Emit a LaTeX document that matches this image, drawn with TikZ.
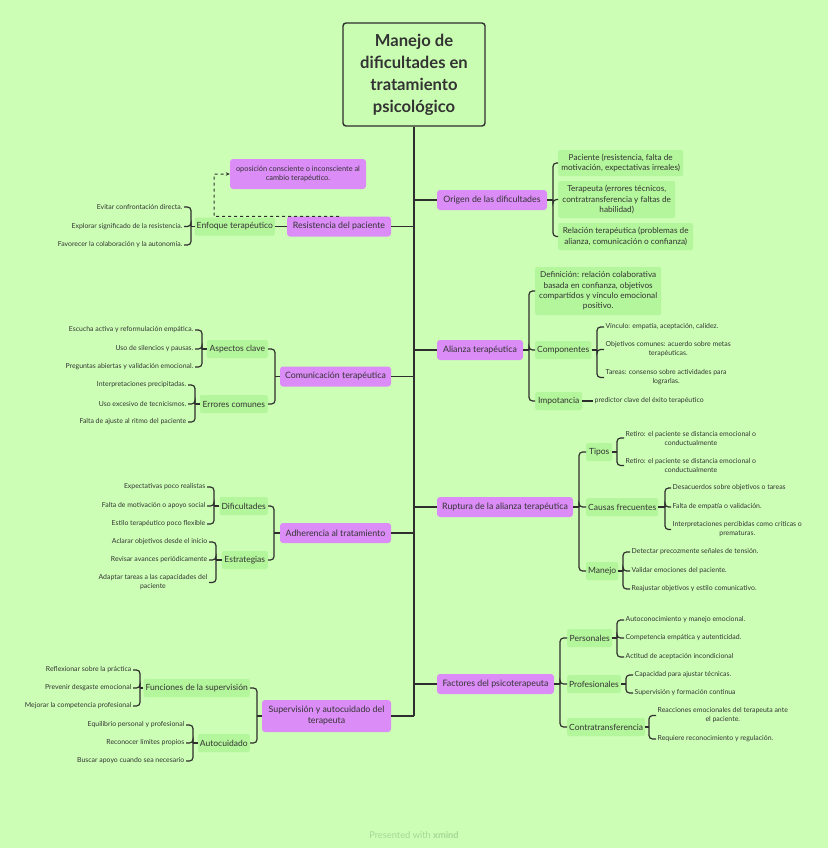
\documentclass[tikz,border=0pt]{standalone}
\usepackage{fontspec}
\setmainfont{Lato}
\usetikzlibrary{arrows.meta}
\definecolor{bg}{HTML}{CCFFB5}
\definecolor{bgl}{HTML}{C9FEB2}
\definecolor{pur}{HTML}{DB8CF7}
\definecolor{grn}{HTML}{B4F69B}
\definecolor{lc}{HTML}{2E2E2E}
\definecolor{tc}{HTML}{333333}
\definecolor{foot}{HTML}{A6D596}
\begin{document}
\begin{tikzpicture}[x=1pt,y=-1pt,
  mainnode/.style={fill=pur, rounded corners=3pt, font=\fontsize{8.8}{11}\selectfont, text=tc, minimum height=20, inner sep=2pt, align=center},
  subnode/.style={fill=grn, rounded corners=2pt, font=\fontsize{8.5}{11}\selectfont, text=tc, minimum height=18, inner sep=2pt},
  okbox/.style={fill=grn, rounded corners=2pt, font=\fontsize{8.2}{10.4}\selectfont, text=tc, align=center, inner sep=2pt},
  leaf/.style={font=\fontsize{6.9}{9}\selectfont, text=tc, inner sep=1.5pt, align=center},
  ml/.style={draw=lc, line width=1.7pt},
  ln/.style={draw=lc, line width=1.2pt},
  br/.style={draw=lc, line width=1.2pt, rounded corners=3.5pt}]
\fill[bg] (0,0) rectangle (828,848);
\useasboundingbox (0,0) rectangle (828,848);

% root
\node[draw=lc, line width=1.4pt, fill=bgl, rounded corners=3pt, minimum width=142, minimum height=103, align=center, text=tc, font=\fontsize{16.6}{22}\selectfont\bfseries] (root) at (414,74.5) {Manejo de\\dificultades en\\tratamiento\\psicológico};
\coordinate (tend) at (414,716);
\draw[ml] (root.south) -- (tend);

% main nodes
\node[mainnode, minimum width=110] (ori) at (492,200) {Origen de las dificultades};
\node[mainnode, minimum width=86] (ali) at (480,350) {Alianza terapéutica};
\node[mainnode, minimum width=136] (rup) at (505,507) {Ruptura de la alianza terapéutica};
\node[mainnode, minimum width=117] (fac) at (495.5,684) {Factores del psicoterapeuta};
\node[mainnode, minimum width=104] (res) at (339,226.5) {Resistencia del paciente};
\node[mainnode, minimum width=111] (com) at (335.5,376.5) {Comunicación terapéutica};
\node[mainnode, minimum width=111] (adh) at (335.5,533) {Adherencia al tratamiento};
\node[mainnode, minimum width=129, minimum height=32] (sup) at (326.5,716) {Supervisión y autocuidado del\\terapeuta};

\foreach \n in {ori,ali,rup,fac}{\draw[ml] (\n.west -| root.south) -- (\n.west);}
\foreach \n in {res,com,adh,sup}{\draw[ml] (\n.east -| root.south) -- (\n.east);}

% ---------- Origen
\node[okbox, minimum width=125, minimum height=26, anchor=west] (o1) at (558,163) {Paciente (resistencia, falta de\\motivación, expectativas irreales)};
\node[okbox, minimum width=117, minimum height=37, anchor=west] (o2) at (558,199.5) {Terapeuta (errores técnicos,\\contratransferencia y faltas de\\habilidad)};
\node[okbox, minimum width=135, minimum height=27, anchor=west] (o3) at (558,236.5) {Relación terapéutica (problemas de\\alianza, comunicación o confianza)};
\coordinate (jo) at (553,200);
\draw[ln] (ori.east) -- (jo);
\foreach \c in {o1,o2,o3}{\draw[br] (jo) |- (\c.west);}

% ---------- Alianza
\node[okbox, minimum width=126, minimum height=48, anchor=west] (a1) at (535,291) {Definición: relación colaborativa\\basada en confianza, objetivos\\compartidos y vínculo emocional\\positivo.};
\node[subnode, minimum width=56, anchor=west] (a2) at (535,350) {Componentes};
\node[subnode, minimum width=47, anchor=west] (a3) at (535,401) {Impotancia};
\coordinate (ja) at (529,350);
\draw[ln] (ali.east) -- (ja);
\foreach \c in {a1,a2,a3}{\draw[br] (ja) |- (\c.west);}
\node[leaf, anchor=west] (c1) at (604,327) {Vínculo: empatía, aceptación, calidez.};
\node[leaf, anchor=west] (c2) at (604,349.5) {Objetivos comunes: acuerdo sobre metas\\terapéuticas.};
\node[leaf, anchor=west] (c3) at (604,377.5) {Tareas: consenso sobre actividades para\\lograrlas.};
\coordinate (jc) at (597,350);
\draw[ln] (a2.east) -- (jc);
\foreach \c in {c1,c2,c3}{\draw[br] (jc) |- (\c.west);}
\node[leaf, anchor=west] (i1) at (593,401) {predictor clave del éxito terapéutico};
\draw[ln] (a3.east) -- (i1.west);

% ---------- Ruptura
\node[subnode, minimum width=26, anchor=west] (r1) at (586,452) {Tipos};
\node[subnode, minimum width=72, anchor=west] (r2) at (586,507) {Causas frecuentes};
\node[subnode, minimum width=32, anchor=west] (r3) at (586,571) {Manejo};
\coordinate (jr) at (579,507);
\draw[ln] (rup.east) -- (jr);
\foreach \c in {r1,r2,r3}{\draw[br] (jr) |- (\c.west);}
\node[leaf, anchor=west] (t1) at (624,438) {Retiro: el paciente se distancia emocional o\\conductualmente};
\node[leaf, anchor=west] (t2) at (624,465.5) {Retiro: el paciente se distancia emocional o\\conductualmente};
\coordinate (jt) at (617,452);
\draw[ln] (r1.east) -- (jt);
\foreach \c in {t1,t2}{\draw[br] (jt) |- (\c.west);}
\node[leaf, anchor=west] (k1) at (671,488) {Desacuerdos sobre objetivos o tareas};
\node[leaf, anchor=west] (k2) at (671,507) {Falta de empatía o validación.};
\node[leaf, anchor=west] (k3) at (671,529.5) {Interpretaciones percibidas como críticas o\\prematuras.};
\coordinate (jk) at (665,507);
\draw[ln] (r2.east) -- (jk);
\foreach \c in {k1,k2,k3}{\draw[br] (jk) |- (\c.west);}
\node[leaf, anchor=west] (m1) at (630,552) {Detectar precozmente señales de tensión.};
\node[leaf, anchor=west] (m2) at (630,571) {Validar emociones del paciente.};
\node[leaf, anchor=west] (m3) at (630,589) {Reajustar objetivos y estilo comunicativo.};
\coordinate (jm) at (623,571);
\draw[ln] (r3.east) -- (jm);
\foreach \c in {m1,m2,m3}{\draw[br] (jm) |- (\c.west);}

% ---------- Factores
\node[subnode, minimum width=45, anchor=west] (f1) at (567,638) {Personales};
\node[subnode, minimum width=53, anchor=west] (f2) at (567,684) {Profesionales};
\node[subnode, minimum width=76, anchor=west] (f3) at (567,727) {Contratransferencia};
\coordinate (jf) at (560,684);
\draw[ln] (fac.east) -- (jf);
\foreach \c in {f1,f2,f3}{\draw[br] (jf) |- (\c.west);}
\node[leaf, anchor=west] (p1) at (624,620) {Autoconocimiento y manejo emocional.};
\node[leaf, anchor=west] (p2) at (624,638) {Competencia empática y autenticidad.};
\node[leaf, anchor=west] (p3) at (624,657) {Actitud de aceptación incondicional};
\coordinate (jp) at (617,638);
\draw[ln] (f1.east) -- (jp);
\foreach \c in {p1,p2,p3}{\draw[br] (jp) |- (\c.west);}
\node[leaf, anchor=west] (q1) at (633,675) {Capacidad para ajustar técnicas.};
\node[leaf, anchor=west] (q2) at (633,693) {Supervisión y formación continua};
\coordinate (jq) at (626,684);
\draw[ln] (f2.east) -- (jq);
\foreach \c in {q1,q2}{\draw[br] (jq) |- (\c.west);}
\node[leaf, anchor=west] (u1) at (656,715.5) {Reacciones emocionales del terapeuta ante\\el paciente.};
\node[leaf, anchor=west] (u2) at (656,739) {Requiere reconocimiento y regulación.};
\coordinate (ju) at (649,727);
\draw[ln] (f3.east) -- (ju);
\foreach \c in {u1,u2}{\draw[br] (ju) |- (\c.west);}

% ---------- Resistencia
\node[subnode, minimum width=78, anchor=east] (e) at (275,226.5) {Enfoque terapéutico};
\draw[ln] (res.west) -- (e.east);
\node[leaf, anchor=east] (e1) at (184,207) {Evitar confrontación directa.};
\node[leaf, anchor=east] (e2) at (184,226.5) {Explorar significado de la resistencia.};
\node[leaf, anchor=east] (e3) at (184,245) {Favorecer la colaboración y la autonomía.};
\coordinate (je) at (191,226.5);
\draw[ln] (e.west) -- (je);
\foreach \c in {e1,e2,e3}{\draw[br] (je) |- (\c.east);}
\node[fill=pur, rounded corners=3pt, minimum width=136, minimum height=30, align=center, text=tc, font=\fontsize{7.4}{9.4}\selectfont, inner sep=2pt] (cal) at (298,174) {oposición consciente o inconsciente al\\cambio terapéutico.};
\coordinate (dk) at (214,216.5);
\draw[draw=lc, line width=1pt, dashed, -{Stealth[length=4pt,width=3.5pt]}] (res.north) -- (dk) |- (cal.west);

% ---------- Comunicación
\node[subnode, minimum width=61, anchor=east] (ca) at (268,349) {Aspectos clave};
\node[subnode, minimum width=68, anchor=east] (ce) at (268,404) {Errores comunes};
\coordinate (jcm) at (275,376.5);
\draw[ln] (com.west) -- (jcm);
\foreach \c in {ca,ce}{\draw[br] (jcm) |- (\c.east);}
\node[leaf, anchor=east] (g1) at (195,330) {Escucha activa y reformulación empática.};
\node[leaf, anchor=east] (g2) at (195,349) {Uso de silencios y pausas.};
\node[leaf, anchor=east] (g3) at (195,367) {Preguntas abiertas y validación emocional.};
\coordinate (jg) at (202,349);
\draw[ln] (ca.west) -- (jg);
\foreach \c in {g1,g2,g3}{\draw[br] (jg) |- (\c.east);}
\node[leaf, anchor=east] (h1) at (188,385) {Interpretaciones precipitadas.};
\node[leaf, anchor=east] (h2) at (188,404) {Uso excesivo de tecnicismos.};
\node[leaf, anchor=east] (h3) at (188,422) {Falta de ajuste al ritmo del paciente};
\coordinate (jh) at (195,404);
\draw[ln] (ce.west) -- (jh);
\foreach \c in {h1,h2,h3}{\draw[br] (jh) |- (\c.east);}

% ---------- Adherencia
\node[subnode, minimum width=48, anchor=east] (d1) at (268,506) {Dificultades};
\node[subnode, minimum width=46, anchor=east] (d2) at (268,560) {Estrategias};
\coordinate (jd) at (274,533);
\draw[ln] (adh.west) -- (jd);
\foreach \c in {d1,d2}{\draw[br] (jd) |- (\c.east);}
\node[leaf, anchor=east] (w1) at (207,487) {Expectativas poco realistas};
\node[leaf, anchor=east] (w2) at (207,506) {Falta de motivación o apoyo social};
\node[leaf, anchor=east] (w3) at (207,524) {Estilo terapéutico poco flexible};
\coordinate (jw) at (214,506);
\draw[ln] (d1.west) -- (jw);
\foreach \c in {w1,w2,w3}{\draw[br] (jw) |- (\c.east);}
\node[leaf, anchor=east] (s1) at (209,542) {Aclarar objetivos desde el inicio};
\node[leaf, anchor=east] (s2) at (209,560) {Revisar avances periódicamente};
\node[leaf, anchor=east] (s3) at (209,582.5) {Adaptar tareas a las capacidades del\\paciente};
\coordinate (js) at (216,560);
\draw[ln] (d2.west) -- (js);
\foreach \c in {s1,s2,s3}{\draw[br] (js) |- (\c.east);}

% ---------- Supervisión
\node[subnode, minimum width=105, anchor=east] (v1) at (250,688) {Funciones de la supervisión};
\node[subnode, minimum width=52, anchor=east] (v2) at (250,743) {Autocuidado};
\coordinate (jv) at (257,716);
\draw[ln] (sup.west) -- (jv);
\foreach \c in {v1,v2}{\draw[br] (jv) |- (\c.east);}
\node[leaf, anchor=east] (x1) at (133,670) {Reflexionar sobre la práctica};
\node[leaf, anchor=east] (x2) at (133,688) {Prevenir desgaste emocional};
\node[leaf, anchor=east] (x3) at (133,706) {Mejorar la competencia profesional};
\coordinate (jx) at (140,688);
\draw[ln] (v1.west) -- (jx);
\foreach \c in {x1,x2,x3}{\draw[br] (jx) |- (\c.east);}
\node[leaf, anchor=east] (y1) at (186,725) {Equilibrio personal y profesional};
\node[leaf, anchor=east] (y2) at (186,743) {Reconocer límites propios};
\node[leaf, anchor=east] (y3) at (186,761) {Buscar apoyo cuando sea necesario};
\coordinate (jy) at (193,743);
\draw[ln] (v2.west) -- (jy);
\foreach \c in {y1,y2,y3}{\draw[br] (jy) |- (\c.east);}

% footer
\node[font=\fontsize{9.3}{11}\selectfont, text=foot] (ft) at (414,835) {Presented with \textbf{xmind}};
\end{tikzpicture}
\end{document}
